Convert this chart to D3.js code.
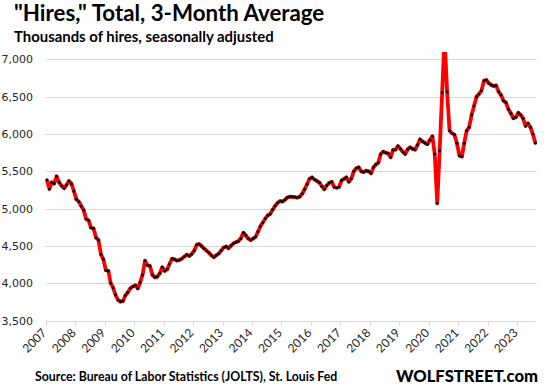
<!DOCTYPE html>
<html>
<head>
<meta charset="utf-8">
<script src="https://cdn.jsdelivr.net/npm/d3@7"></script>
<style>
  html, body { margin: 0; padding: 0; background: #fff; }
  svg { display: block; }
</style>
</head>
<body>
<svg id="chart" width="544" height="391"></svg>
<script>
// ---- Data (monthly, 3-month average of hires, thousands) ----
const startYear = 2007;            // first month: Jan 2007
const hires2007 = [5388, 5264, 5353, 5335, 5434, 5353, 5308, 5273, 5317, 5371, 5335, 5237];
const hires2008 = [5125, 5094, 5036, 4983, 4862, 4844, 4745, 4737, 4612, 4581, 4389, 4322];
const hires2009 = [4175, 4166, 4005, 3942, 3844, 3777, 3755, 3764, 3840, 3880, 3934, 3957];
const hires2010 = [3975, 3930, 4010, 4113, 4305, 4242, 4233, 4113, 4081, 4090, 4135, 4215];
const hires2011 = [4166, 4190, 4260, 4331, 4322, 4305, 4313, 4331, 4358, 4385, 4367, 4393];
const hires2012 = [4438, 4518, 4527, 4500, 4469, 4438, 4411, 4375, 4350, 4375, 4400, 4440];
const hires2013 = [4480, 4495, 4469, 4505, 4535, 4552, 4565, 4600, 4679, 4645, 4600, 4580];
const hires2014 = [4600, 4625, 4690, 4765, 4815, 4870, 4910, 4930, 4990, 5040, 5080, 5103];
const hires2015 = [5095, 5120, 5150, 5161, 5158, 5155, 5147, 5160, 5200, 5260, 5330, 5400];
const hires2016 = [5420, 5390, 5371, 5350, 5300, 5259, 5310, 5345, 5362, 5290, 5280, 5290];
const hires2017 = [5380, 5400, 5420, 5360, 5400, 5500, 5540, 5554, 5500, 5490, 5509, 5500];
const hires2018 = [5474, 5554, 5590, 5616, 5732, 5764, 5750, 5740, 5688, 5786, 5790, 5839];
const hires2019 = [5800, 5760, 5732, 5795, 5822, 5800, 5790, 5853, 5929, 5900, 5880, 5862];
const hires2020 = [5920, 5969, 5732, 5072, 5777, 6554, 7300, 6567, 6045, 6009, 5991, 5875];
const hires2021 = [5710, 5697, 5875, 6045, 6089, 6254, 6375, 6500, 6536, 6580, 6714, 6723];
const hires2022 = [6679, 6656, 6643, 6650, 6567, 6522, 6446, 6420, 6330, 6277, 6210, 6223];
const hires2023 = [6286, 6254, 6210, 6107, 6143, 6089, 5999, 5875];

const hiresValues = [].concat(hires2007, hires2008, hires2009, hires2010, hires2011, hires2012,
  hires2013, hires2014, hires2015, hires2016, hires2017, hires2018, hires2019, hires2020,
  hires2021, hires2022, hires2023);

const yearLabels = ["2007","2008","2009","2010","2011","2012","2013","2014","2015","2016",
                    "2017","2018","2019","2020","2021","2022","2023"];
const yTickValues = [3500, 4000, 4500, 5000, 5500, 6000, 6500, 7000];

const titleText = "\"Hires,\" Total, 3-Month Average";
const subtitleText = "Thousands of hires, seasonally adjusted";
const sourceText = "Source: Bureau of Labor Statistics (JOLTS), St. Louis Fed";
const brandText = "WOLFSTREET.com";

// ---- Build series ----
const data = hiresValues.map((v, i) => ({
  date: new Date(startYear + Math.floor(i / 12), i % 12, 16),
  value: v
}));

const svg = d3.select("#chart");

const x = d3.scaleTime()
  .domain([new Date(2007, 0, 1), new Date(2023, 8, 1)])
  .range([45.7, 536.7]);

const y = d3.scaleLinear()
  .domain([3500, 7000])
  .range([320.7, 59.3]);

// gridlines
svg.append("g")
  .selectAll("line")
  .data(yTickValues)
  .join("line")
  .attr("x1", 45.7).attr("x2", 536.7)
  .attr("y1", d => Math.round(y(d)) + 0.5)
  .attr("y2", d => Math.round(y(d)) + 0.5)
  .attr("stroke", "#d9d9d9")
  .attr("stroke-width", 1);

// y labels
svg.append("g")
  .selectAll("text")
  .data(yTickValues)
  .join("text")
  .attr("x", 33)
  .attr("y", d => y(d) + 4)
  .attr("text-anchor", "end")
  .attr("font-family", "DejaVu Sans")
  .attr("font-size", 11)
  .attr("fill", "#262626")
  .text(d => d3.format(",")(d));

// x axis ticks
const yearDates = yearLabels.map(s => new Date(+s, 0, 1));
svg.append("g")
  .selectAll("line")
  .data(yearDates)
  .join("line")
  .attr("x1", d => Math.round(x(d)) + 0.5)
  .attr("x2", d => Math.round(x(d)) + 0.5)
  .attr("y1", y(3500))
  .attr("y2", y(3500) + 5)
  .attr("stroke", "#d9d9d9");

svg.append("g")
  .selectAll("text")
  .data(yearLabels)
  .join("text")
  .attr("transform", d => `translate(${x(new Date(+d, 0, 1)) + 1.5},${y(3500) + 13}) rotate(-45)`)
  .attr("text-anchor", "end")
  .attr("font-family", "Lato")
  .attr("font-size", 12)
  .attr("fill", "#262626")
  .text(d => d);

// clip for plot
svg.append("clipPath").attr("id", "plotClip")
  .append("rect").attr("x", 40).attr("y", 52).attr("width", 500).attr("height", 275);

const line = d3.line()
  .x(d => x(d.date))
  .y(d => y(d.value));

const plot = svg.append("g").attr("clip-path", "url(#plotClip)");

plot.append("path")
  .datum(data)
  .attr("d", line)
  .attr("fill", "none")
  .attr("stroke", "#ff0000")
  .attr("stroke-width", 3.8)
  .attr("stroke-linejoin", "round");

plot.append("g")
  .selectAll("circle")
  .data(data)
  .join("circle")
  .attr("cx", d => x(d.date))
  .attr("cy", d => y(d.value))
  .attr("r", 1.5)
  .attr("fill", "#000");

// titles
svg.append("text")
  .attr("x", 14).attr("y", 21)
  .attr("font-family", "Lato").attr("font-weight", "bold")
  .attr("font-size", 22.3).attr("fill", "#000")
  .text(titleText);

svg.append("text")
  .attr("x", 14).attr("y", 42)
  .attr("font-family", "Lato").attr("font-weight", "bold")
  .attr("font-size", 14.9).attr("fill", "#000")
  .text(subtitleText);

svg.append("text")
  .attr("x", 35).attr("y", 381)
  .attr("font-family", "Lato").attr("font-weight", "bold")
  .attr("font-size", 12.3).attr("fill", "#000")
  .text(sourceText);

svg.append("text")
  .attr("x", 538).attr("y", 382)
  .attr("text-anchor", "end")
  .attr("font-family", "Lato").attr("font-weight", 900)
  .attr("font-size", 16.6).attr("fill", "#000")
  .text(brandText);
</script>
</body>
</html>
